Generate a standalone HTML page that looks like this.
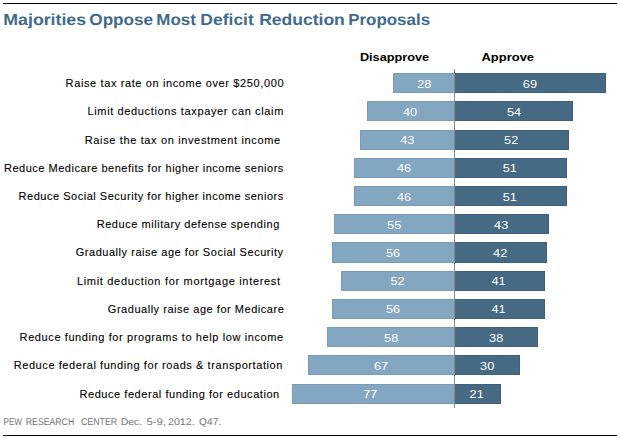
<!DOCTYPE html>
<html><head><meta charset="utf-8"><style>
html,body{margin:0;padding:0;background:#fff;width:620px;height:439px;overflow:hidden}
svg{display:block;position:absolute;left:0;top:0}
text{font-family:"Liberation Sans",sans-serif}
</style></head><body>
<svg width="620" height="439" viewBox="0 0 620 439">
<rect x="0" y="0" width="620" height="439" fill="#fff"/>
<rect x="3" y="3" width="614" height="1" fill="#000"/>
<rect x="3" y="435" width="614" height="1" fill="#000"/>
<g font-size="16" font-weight="bold" fill="#416a8b" text-rendering="geometricPrecision"><text x="3.35" y="25" textLength="82.71" lengthAdjust="spacingAndGlyphs">Majorities</text><text x="89.31" y="25" textLength="63.83" lengthAdjust="spacingAndGlyphs">Oppose</text><text x="156.30" y="25" textLength="39.52" lengthAdjust="spacingAndGlyphs">Most</text><text x="200.36" y="25" textLength="53.43" lengthAdjust="spacingAndGlyphs">Deficit</text><text x="259.16" y="25" textLength="85.67" lengthAdjust="spacingAndGlyphs">Reduction</text><text x="348.20" y="25" textLength="81.88" lengthAdjust="spacingAndGlyphs">Proposals</text></g>
<text x="359.9" y="60.9" font-size="11" font-weight="bold" fill="#000" textLength="69.3" lengthAdjust="spacingAndGlyphs">Disapprove</text>
<text x="481.4" y="60.9" font-size="11" font-weight="bold" fill="#000" textLength="52.7" lengthAdjust="spacingAndGlyphs">Approve</text>
<text x="65.6" y="87" font-size="11" fill="#000" stroke="#000" stroke-width="0.1" textLength="217.9" lengthAdjust="spacing">Raise tax rate on income over $250,000</text>
<text x="87.5" y="115" font-size="11" fill="#000" stroke="#000" stroke-width="0.1" textLength="195.8" lengthAdjust="spacing">Limit deductions taxpayer can claim</text>
<text x="84.7" y="144" font-size="11" fill="#000" stroke="#000" stroke-width="0.1" textLength="195.4" lengthAdjust="spacing">Raise the tax on investment income</text>
<text x="4.0" y="172" font-size="11" fill="#000" stroke="#000" stroke-width="0.1" textLength="279.3" lengthAdjust="spacing">Reduce Medicare benefits for higher income seniors</text>
<text x="18.6" y="200" font-size="11" fill="#000" stroke="#000" stroke-width="0.1" textLength="264.7" lengthAdjust="spacing">Reduce Social Security for higher income seniors</text>
<text x="96.7" y="228" font-size="11" fill="#000" stroke="#000" stroke-width="0.1" textLength="182.6" lengthAdjust="spacing">Reduce military defense spending</text>
<text x="75.7" y="256" font-size="11" fill="#000" stroke="#000" stroke-width="0.1" textLength="207.4" lengthAdjust="spacing">Gradually raise age for Social Security</text>
<text x="76.9" y="285" font-size="11" fill="#000" stroke="#000" stroke-width="0.1" textLength="203.2" lengthAdjust="spacing">Limit deduction for mortgage interest</text>
<text x="107.8" y="313" font-size="11" fill="#000" stroke="#000" stroke-width="0.1" textLength="176.0" lengthAdjust="spacing">Gradually raise age for Medicare</text>
<text x="19.6" y="341" font-size="11" fill="#000" stroke="#000" stroke-width="0.1" textLength="263.5" lengthAdjust="spacing">Reduce funding for programs to help low income</text>
<text x="13.7" y="369" font-size="11" fill="#000" stroke="#000" stroke-width="0.1" textLength="268.7" lengthAdjust="spacing">Reduce federal funding for roads &amp; transportation</text>
<text x="79.5" y="398" font-size="11" fill="#000" stroke="#000" stroke-width="0.1" textLength="199.7" lengthAdjust="spacing">Reduce federal funding for education</text>
<rect x="393" y="73" width="61" height="20" fill="#83a6c1"/><path d="M454 73.5H393.5V92.5H454" fill="none" stroke="#779bb8" stroke-width="1"/>
<rect x="455" y="73" width="151" height="20" fill="#466a84"/><path d="M455 73.5H605.5V92.5H455" fill="none" stroke="#3c607e" stroke-width="1"/>
<rect x="367" y="101" width="87" height="20" fill="#83a6c1"/><path d="M454 101.5H367.5V120.5H454" fill="none" stroke="#779bb8" stroke-width="1"/>
<rect x="455" y="101" width="118" height="20" fill="#466a84"/><path d="M455 101.5H572.5V120.5H455" fill="none" stroke="#3c607e" stroke-width="1"/>
<rect x="360" y="130" width="94" height="20" fill="#83a6c1"/><path d="M454 130.5H360.5V149.5H454" fill="none" stroke="#779bb8" stroke-width="1"/>
<rect x="455" y="130" width="114" height="20" fill="#466a84"/><path d="M455 130.5H568.5V149.5H455" fill="none" stroke="#3c607e" stroke-width="1"/>
<rect x="354" y="158" width="100" height="20" fill="#83a6c1"/><path d="M454 158.5H354.5V177.5H454" fill="none" stroke="#779bb8" stroke-width="1"/>
<rect x="455" y="158" width="112" height="20" fill="#466a84"/><path d="M455 158.5H566.5V177.5H455" fill="none" stroke="#3c607e" stroke-width="1"/>
<rect x="354" y="186" width="100" height="20" fill="#83a6c1"/><path d="M454 186.5H354.5V205.5H454" fill="none" stroke="#779bb8" stroke-width="1"/>
<rect x="455" y="186" width="112" height="20" fill="#466a84"/><path d="M455 186.5H566.5V205.5H455" fill="none" stroke="#3c607e" stroke-width="1"/>
<rect x="334" y="214" width="120" height="20" fill="#83a6c1"/><path d="M454 214.5H334.5V233.5H454" fill="none" stroke="#779bb8" stroke-width="1"/>
<rect x="455" y="214" width="94" height="20" fill="#466a84"/><path d="M455 214.5H548.5V233.5H455" fill="none" stroke="#3c607e" stroke-width="1"/>
<rect x="332" y="242" width="122" height="21" fill="#83a6c1"/><path d="M454 242.5H332.5V262.5H454" fill="none" stroke="#779bb8" stroke-width="1"/>
<rect x="455" y="242" width="92" height="21" fill="#466a84"/><path d="M455 242.5H546.5V262.5H455" fill="none" stroke="#3c607e" stroke-width="1"/>
<rect x="341" y="271" width="113" height="20" fill="#83a6c1"/><path d="M454 271.5H341.5V290.5H454" fill="none" stroke="#779bb8" stroke-width="1"/>
<rect x="455" y="271" width="90" height="20" fill="#466a84"/><path d="M455 271.5H544.5V290.5H455" fill="none" stroke="#3c607e" stroke-width="1"/>
<rect x="332" y="299" width="122" height="20" fill="#83a6c1"/><path d="M454 299.5H332.5V318.5H454" fill="none" stroke="#779bb8" stroke-width="1"/>
<rect x="455" y="299" width="90" height="20" fill="#466a84"/><path d="M455 299.5H544.5V318.5H455" fill="none" stroke="#3c607e" stroke-width="1"/>
<rect x="327" y="327" width="127" height="20" fill="#83a6c1"/><path d="M454 327.5H327.5V346.5H454" fill="none" stroke="#779bb8" stroke-width="1"/>
<rect x="455" y="327" width="83" height="20" fill="#466a84"/><path d="M455 327.5H537.5V346.5H455" fill="none" stroke="#3c607e" stroke-width="1"/>
<rect x="308" y="355" width="146" height="20" fill="#83a6c1"/><path d="M454 355.5H308.5V374.5H454" fill="none" stroke="#779bb8" stroke-width="1"/>
<rect x="455" y="355" width="65" height="20" fill="#466a84"/><path d="M455 355.5H519.5V374.5H455" fill="none" stroke="#3c607e" stroke-width="1"/>
<rect x="292" y="384" width="162" height="20" fill="#83a6c1"/><path d="M454 384.5H292.5V403.5H454" fill="none" stroke="#779bb8" stroke-width="1"/>
<rect x="455" y="384" width="46" height="20" fill="#466a84"/><path d="M455 384.5H500.5V403.5H455" fill="none" stroke="#3c607e" stroke-width="1"/>
<rect x="454" y="69" width="1" height="339" fill="#8a8a8a"/>
<text x="424.3" y="88.0" font-size="11" fill="#fff" text-anchor="middle" textLength="14.2" lengthAdjust="spacingAndGlyphs">28</text>
<text x="529.9" y="88.0" font-size="11" fill="#fff" text-anchor="middle" textLength="14.2" lengthAdjust="spacingAndGlyphs">69</text>
<text x="410.1" y="116.0" font-size="11" fill="#fff" text-anchor="middle" textLength="14.2" lengthAdjust="spacingAndGlyphs">40</text>
<text x="514.0" y="116.0" font-size="11" fill="#fff" text-anchor="middle" textLength="14.2" lengthAdjust="spacingAndGlyphs">54</text>
<text x="407.3" y="144.0" font-size="11" fill="#fff" text-anchor="middle" textLength="14.2" lengthAdjust="spacingAndGlyphs">43</text>
<text x="511.2" y="144.0" font-size="11" fill="#fff" text-anchor="middle" textLength="14.2" lengthAdjust="spacingAndGlyphs">52</text>
<text x="404.1" y="172.0" font-size="11" fill="#fff" text-anchor="middle" textLength="14.2" lengthAdjust="spacingAndGlyphs">46</text>
<text x="509.8" y="172.0" font-size="11" fill="#fff" text-anchor="middle" textLength="14.2" lengthAdjust="spacingAndGlyphs">51</text>
<text x="404.1" y="201.0" font-size="11" fill="#fff" text-anchor="middle" textLength="14.2" lengthAdjust="spacingAndGlyphs">46</text>
<text x="509.8" y="201.0" font-size="11" fill="#fff" text-anchor="middle" textLength="14.2" lengthAdjust="spacingAndGlyphs">51</text>
<text x="394.2" y="229.0" font-size="11" fill="#fff" text-anchor="middle" textLength="14.2" lengthAdjust="spacingAndGlyphs">55</text>
<text x="501.2" y="229.0" font-size="11" fill="#fff" text-anchor="middle" textLength="14.2" lengthAdjust="spacingAndGlyphs">43</text>
<text x="393.0" y="257.0" font-size="11" fill="#fff" text-anchor="middle" textLength="14.2" lengthAdjust="spacingAndGlyphs">56</text>
<text x="500.2" y="257.0" font-size="11" fill="#fff" text-anchor="middle" textLength="14.2" lengthAdjust="spacingAndGlyphs">42</text>
<text x="397.5" y="285.0" font-size="11" fill="#fff" text-anchor="middle" textLength="14.2" lengthAdjust="spacingAndGlyphs">52</text>
<text x="498.6" y="285.0" font-size="11" fill="#fff" text-anchor="middle" textLength="14.2" lengthAdjust="spacingAndGlyphs">41</text>
<text x="393.0" y="313.0" font-size="11" fill="#fff" text-anchor="middle" textLength="14.2" lengthAdjust="spacingAndGlyphs">56</text>
<text x="498.6" y="313.0" font-size="11" fill="#fff" text-anchor="middle" textLength="14.2" lengthAdjust="spacingAndGlyphs">41</text>
<text x="391.2" y="342.0" font-size="11" fill="#fff" text-anchor="middle" textLength="14.2" lengthAdjust="spacingAndGlyphs">58</text>
<text x="496.2" y="342.0" font-size="11" fill="#fff" text-anchor="middle" textLength="14.2" lengthAdjust="spacingAndGlyphs">38</text>
<text x="381.0" y="370.0" font-size="11" fill="#fff" text-anchor="middle" textLength="14.2" lengthAdjust="spacingAndGlyphs">67</text>
<text x="487.2" y="370.0" font-size="11" fill="#fff" text-anchor="middle" textLength="14.2" lengthAdjust="spacingAndGlyphs">30</text>
<text x="370.3" y="398.0" font-size="11" fill="#fff" text-anchor="middle" textLength="14.2" lengthAdjust="spacingAndGlyphs">77</text>
<text x="476.7" y="398.0" font-size="11" fill="#fff" text-anchor="middle" textLength="14.2" lengthAdjust="spacingAndGlyphs">21</text>
<g font-size="9.8" fill="#757575" text-rendering="geometricPrecision"><text x="3.44" y="425" textLength="18.68" lengthAdjust="spacingAndGlyphs">PEW</text><text x="25.80" y="425" textLength="48.41" lengthAdjust="spacingAndGlyphs">RESEARCH</text><text x="80.96" y="425" textLength="36.15" lengthAdjust="spacingAndGlyphs">CENTER</text><text x="120.66" y="425" textLength="21.60" lengthAdjust="spacingAndGlyphs">Dec.</text><text x="146.45" y="425" textLength="19.45" lengthAdjust="spacingAndGlyphs">5-9,</text><text x="167.97" y="425" textLength="26.72" lengthAdjust="spacingAndGlyphs">2012.</text><text x="199.14" y="425" textLength="22.11" lengthAdjust="spacingAndGlyphs">Q47.</text></g>
</svg>
</body></html>
